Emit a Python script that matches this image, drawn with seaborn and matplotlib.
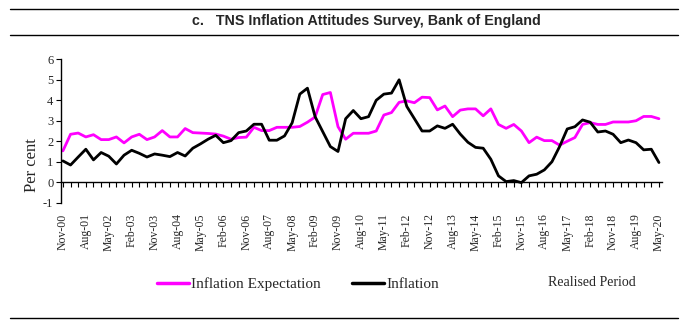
import matplotlib
matplotlib.use("Agg")
import matplotlib.pyplot as plt
from matplotlib import font_manager
from matplotlib.lines import Line2D
import seaborn as sns
import pandas as pd
import numpy as np

# ---------------- data ----------------
period_labels = ["Nov-00", "Aug-01", "May-02", "Feb-03", "Nov-03", "Aug-04", "May-05",
                 "Feb-06", "Nov-06", "Aug-07", "May-08", "Feb-09", "Nov-09", "Aug-10",
                 "May-11", "Feb-12", "Nov-12", "Aug-13", "May-14", "Feb-15", "Nov-15",
                 "Aug-16", "May-17", "Feb-18", "Nov-18", "Aug-19", "May-20"]

expectation = [1.53, 2.34, 2.40, 2.21, 2.32, 2.08, 2.08, 2.21, 1.92, 2.21,
               2.34, 2.08, 2.21, 2.52, 2.21, 2.21, 2.62, 2.42, 2.40, 2.38,
               2.35, 2.25, 2.10, 2.18, 2.20, 2.68, 2.52, 2.52, 2.68, 2.68,
               2.68, 2.72, 2.93, 3.18, 4.28, 4.38, 2.71, 2.10, 2.39, 2.39,
               2.39, 2.50, 3.28, 3.40, 3.90, 3.97, 3.88, 4.15, 4.13, 3.53,
               3.72, 3.20, 3.52, 3.58, 3.58, 3.24, 3.58, 2.82, 2.63, 2.82,
               2.50, 1.93, 2.20, 2.03, 2.03, 1.81, 2.00, 2.18, 2.82, 2.91,
               2.82, 2.82, 2.94, 2.94, 2.94, 3.00, 3.21, 3.21, 3.10]

inflation = [1.04, 0.84, 1.23, 1.61, 1.09, 1.45, 1.27, 0.89, 1.32, 1.56,
             1.41, 1.23, 1.38, 1.32, 1.25, 1.45, 1.28, 1.66, 1.87, 2.10,
             2.29, 1.93, 2.03, 2.42, 2.50, 2.83, 2.83, 2.05, 2.05, 2.26,
             2.90, 4.30, 4.59, 3.20, 2.47, 1.74, 1.50, 3.10, 3.50, 3.10,
             3.20, 4.00, 4.30, 4.35, 5.00, 3.70, 3.10, 2.50, 2.50, 2.75,
             2.63, 2.83, 2.35, 1.95, 1.70, 1.66, 1.12, 0.31, 0.03, 0.08,
             -0.02, 0.31, 0.39, 0.60, 1.00, 1.74, 2.60, 2.71, 3.04, 2.93,
             2.45, 2.50, 2.34, 1.93, 2.06, 1.93, 1.58, 1.61, 0.96]

series_names = ["Inflation Expectation", "Inflation"]
series_colors = ["#FF00FF", "#000000"]

# ---------------- fonts ----------------
def has_font(name):
    try:
        font_manager.findfont(font_manager.FontProperties(family=name), fallback_to_default=False)
        return True
    except Exception:
        return False

serif = "Liberation Serif" if has_font("Liberation Serif") else "DejaVu Serif"
title_font = "Liberation Sans Narrow" if has_font("Liberation Sans Narrow") else "Liberation Sans"

sns.set_theme(style="white")
plt.rcParams["font.family"] = [serif, "DejaVu Serif"]

n = len(inflation)
idx = np.arange(n)
df = pd.DataFrame({
    "idx": np.concatenate([idx, idx]),
    "value": expectation + inflation,
    "series": [series_names[0]] * n + [series_names[1]] * n,
})

W, H = 684, 329
fig = plt.figure(figsize=(W / 100, H / 100), dpi=100)
ax = fig.add_axes([61 / W, 1 - 202.7 / H, (662 - 61) / W, (202.7 - 59.3) / H])

sns.lineplot(data=df, x="idx", y="value", hue="series", hue_order=series_names,
             palette=series_colors, linewidth=2.0, legend=False, ax=ax)

ax.set_xlim(-0.25, 78.4)
ax.set_ylim(-1, 6)
ax.set_xlabel("")
ax.set_ylabel("")

for s in ["top", "right"]:
    ax.spines[s].set_visible(False)
ax.spines["bottom"].set_position(("data", 0))
ax.spines["bottom"].set_color("black")
ax.spines["left"].set_color("black")
ax.spines["bottom"].set_linewidth(1.0)
ax.spines["left"].set_linewidth(1.0)

ax.set_yticks(range(-1, 7))
ax.set_yticklabels([str(v) for v in range(-1, 7)], fontsize=9)
ax.tick_params(axis="y", direction="out", length=3.5, width=0.8, color="black", pad=2, left=True)

ax.set_xticks(idx[::3])
ax.set_xticklabels(period_labels, rotation=90, fontsize=8.5, va="top", ha="center")
ax.set_xticks(idx, minor=True)
ax.tick_params(axis="x", which="both", direction="out", length=3.5, width=0.8,
               color="black", bottom=True)
ax.tick_params(axis="x", which="major", pad=19)
ax.grid(False)

fig.text(32 / W, 1 - 165 / H, "Per cent", rotation=90, ha="center", va="center", fontsize=12)

# title and rules
fig.text(366 / W, 1 - 21 / H, "c.   TNS Inflation Attitudes Survey, Bank of England",
         ha="center", va="center", fontsize=10.3, fontweight="bold", family=[title_font, "DejaVu Sans"])
for yy in [9, 35, 318]:
    fig.add_artist(Line2D([10 / W, 678 / W], [1 - yy / H, 1 - yy / H], color="black",
                          linewidth=1.0, transform=fig.transFigure))

handles = [Line2D([], [], color=c, linewidth=2.5) for c in series_colors]
fig.legend(handles, series_names, loc="center left", bbox_to_anchor=(157 / W, 1 - 284 / H),
           ncol=2, frameon=False, fontsize=11, handlelength=2.1, handletextpad=0.15,
           columnspacing=2.0, borderpad=0, borderaxespad=0)
fig.text(592 / W, 1 - 282 / H, "Realised Period", ha="center", va="center", fontsize=10)

fig.savefig("out.png", dpi=100)
